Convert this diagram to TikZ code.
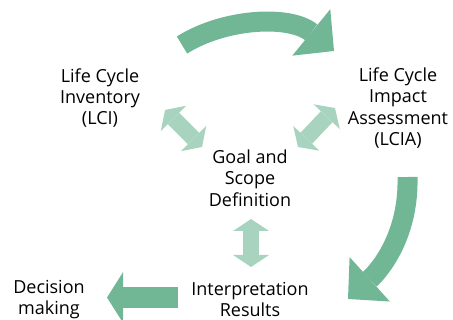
\documentclass[tikz,border=0pt]{standalone}
\usepackage{fontspec}
\setmainfont{Open Sans}
\usetikzlibrary{arrows.meta}
\definecolor{darkgreen}{RGB}{113,183,150}
\definecolor{lightgreen}{RGB}{168,212,191}
\begin{document}
\begin{tikzpicture}[x=0.75pt, y=-0.75pt,
    label/.style={align=center, inner sep=0pt, font=\fontsize{13.5}{16}\selectfont},
    bigarrow/.style={darkgreen, line width=15pt, -{Triangle[length=22pt, width=45pt, line width=0pt]}},
    twoway/.style={lightgreen, line width=12pt, {Triangle[length=9pt, width=27pt, line width=0pt]}-{Triangle[length=9pt, width=27pt, line width=0pt]}}]
    \useasboundingbox (0, 0) rectangle (453, 320);
    \node[label] (lci) at (100, 98) {Life Cycle\\Inventory\\(LCI)};
    \node[label] (lcia) at (398, 108) {Life Cycle\\Impact\\Assessment\\(LCIA)};
    \node[label] (goal) at (250, 178) {Goal and\\Scope\\Definition};
    \node[label] (interp) at (250, 299.5) {Interpretation\\Results};
    \node[label] (decision) at (49, 299.5) {Decision\\making};
    % big arrows round the cycle
    \coordinate (topstart) at (182, 45);
    \coordinate (topend) at (334, 51);
    \coordinate (rightstart) at (407.5, 177);
    \coordinate (rightend) at (348, 299);
    \coordinate (leftstart) at (178, 297.5);
    \coordinate (leftend) at (107, 297.5);
    \draw[bigarrow] (topstart) .. controls (225, 18) and (290, 15) .. (topend);
    \draw[bigarrow] (rightstart) .. controls (409, 235) and (380, 270) .. (rightend);
    \draw[darkgreen, line width=15.75pt, -{Triangle[length=12pt, width=38pt, line width=0pt]}] (leftstart) -- (leftend);
    % links to the goal
    \coordinate (lcitip) at (165, 110);
    \coordinate (goaltipl) at (202, 147);
    \coordinate (lciatip) at (335, 108);
    \coordinate (goaltipr) at (298, 147);
    \coordinate (goaltipb) at (251, 219);
    \coordinate (interptip) at (251, 267);
    \draw[twoway] (lcitip) -- (goaltipl);
    \draw[twoway] (lciatip) -- (goaltipr);
    \draw[twoway] (goaltipb) -- (interptip);
\end{tikzpicture}
\end{document}
